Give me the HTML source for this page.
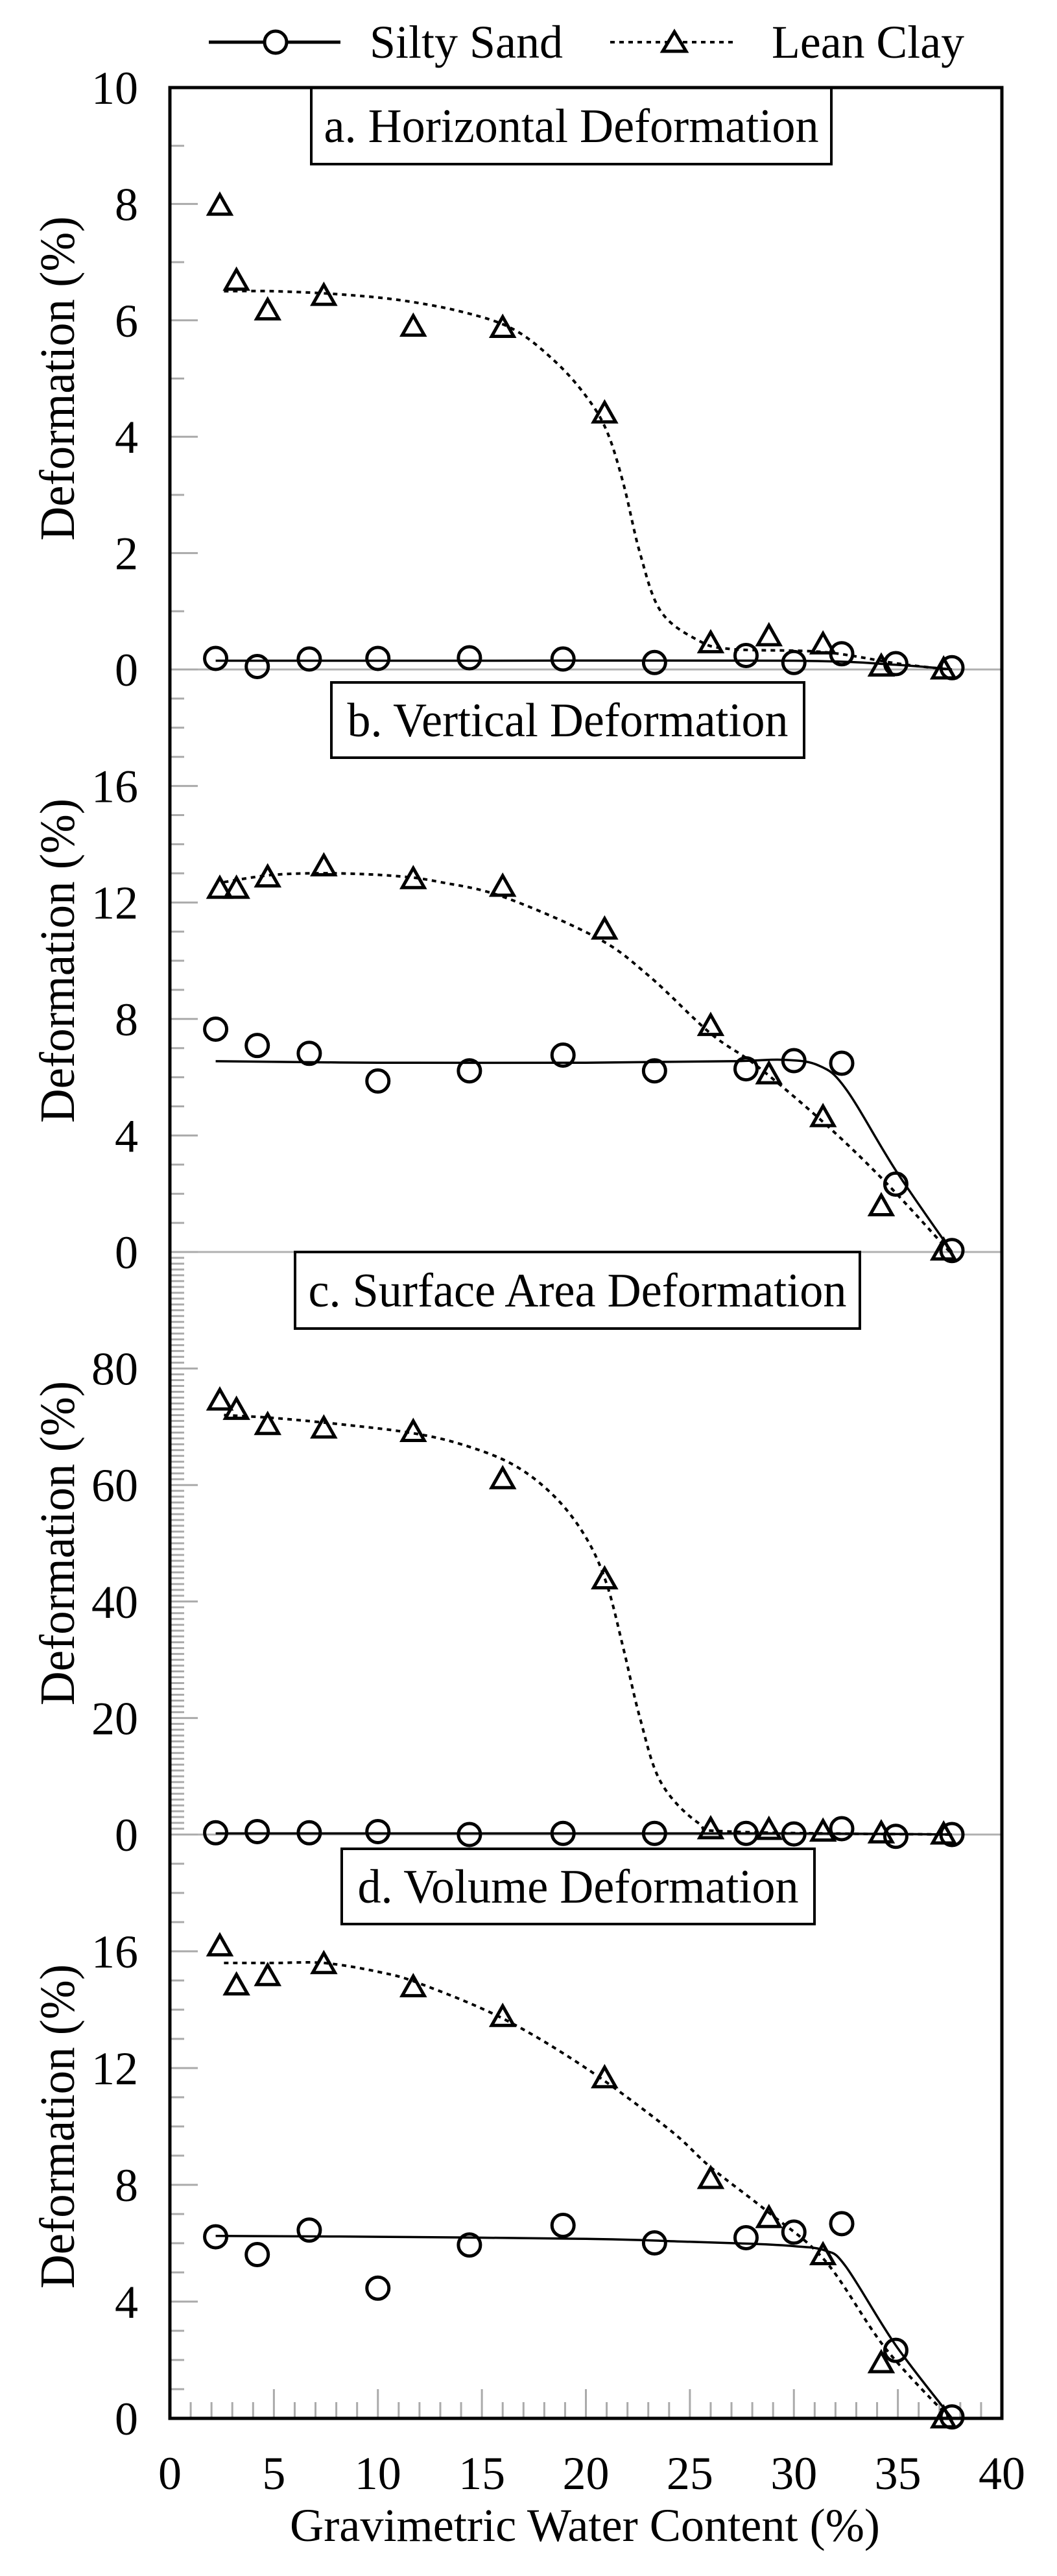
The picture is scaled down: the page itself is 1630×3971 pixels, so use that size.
<!DOCTYPE html>
<html><head><meta charset="utf-8"><style>
html,body{margin:0;padding:0;background:#fff;}
svg{display:block;}
svg text{font-family:"Liberation Serif","DejaVu Serif",serif;fill:#000;}
</style></head><body>
<svg id="chart" width="1630" height="3971" viewBox="0 0 1630 3971" xmlns="http://www.w3.org/2000/svg" font-family="Liberation Serif, DejaVu Serif, serif">
<rect width="1630" height="3971" fill="#fff"/>
<g id="grid"></g>
<g id="curves"></g>
<g id="marks"></g>
<g id="labels"></g>
<g>
  <line x1="322" y1="65" x2="525" y2="65" stroke="#000" stroke-width="5"/>
  <ellipse cx="425" cy="65" rx="17" ry="17" fill="#fff" stroke="#000" stroke-width="5"/>
  <text x="570" y="89" font-size="72" font-family="Liberation Serif, serif" textLength="298" lengthAdjust="spacingAndGlyphs">Silty Sand</text>
  <line x1="941" y1="65" x2="1134" y2="65" stroke="#000" stroke-width="4" stroke-dasharray="7 7"/>
  <path d="M1040 49 L1058 79 L1022 79 Z" fill="#fff" stroke="#000" stroke-width="5"/>
  <text x="1190" y="89" font-size="72" font-family="Liberation Serif, serif" textLength="297" lengthAdjust="spacingAndGlyphs">Lean Clay</text>
</g>
<rect x="262" y="135" width="1283" height="3593" fill="none" stroke="#000" stroke-width="5"/>
<text x="447" y="3917" font-size="72" font-family="Liberation Serif, serif" textLength="910" lengthAdjust="spacingAndGlyphs">Gravimetric Water Content (%)</text>
</svg>
<script>
// ---- data ----
const sandX = [2.2, 4.2, 6.7, 10.0, 14.4, 18.9, 23.3, 27.7, 30.0, 32.3, 34.9, 37.6];
const clayX = [2.4, 3.2, 4.7, 7.4, 11.7, 16.0, 20.9, 26.0, 28.8, 31.4, 34.2, 37.2];

const sandA = [0.19, 0.05, 0.18, 0.19, 0.2, 0.18, 0.12, 0.24, 0.12, 0.27, 0.1, 0.03];
const clayA = [7.97, 6.68, 6.17, 6.42, 5.89, 5.87, 4.4, 0.45, 0.57, 0.43, 0.05, 0.0];
const sandB = [7.65, 7.09, 6.82, 5.87, 6.22, 6.76, 6.22, 6.29, 6.57, 6.48, 2.33, 0.05];
const clayB = [12.47, 12.47, 12.86, 13.24, 12.8, 12.54, 11.07, 7.76, 6.1, 4.63, 1.57, 0.05];
const sandC = [0.3, 0.5, 0.3, 0.5, 0.0, 0.2, 0.2, 0.2, 0.1, 1.0, -0.3, 0.0];
const clayC = [74.5, 72.9, 70.3, 69.7, 69.1, 61.0, 43.8, 0.9, 0.8, 0.5, 0.2, 0.0];
const sandD = [6.22, 5.61, 6.45, 4.46, 5.94, 6.61, 6.01, 6.19, 6.38, 6.67, 2.33, 0.05];
const clayD = [16.17, 14.83, 15.15, 15.56, 14.77, 13.75, 11.65, 8.2, 6.86, 5.59, 1.89, 0.0];

// fitted trend curves
const sandFitAX = [2.2, 15, 30, 34.9, 37.6];
const sandFitAY = [0.15, 0.15, 0.15, 0.08, 0.0];
const clayFitAX = [2.6, 5, 8, 11, 14, 16.5, 18.5, 20, 21, 21.8, 22.6, 23.6, 25.4, 27, 31.4, 35, 37.5];
const clayFitAY = [6.5, 6.5, 6.45, 6.35, 6.15, 5.85, 5.3, 4.7, 4.1, 3.2, 2.0, 1.0, 0.5, 0.35, 0.3, 0.1, 0.0];
const sandFitBX = [2.2, 10, 20, 27, 29.5, 31.2, 32.5, 34.9, 37.6];
const sandFitBY = [6.55, 6.5, 6.5, 6.55, 6.6, 6.4, 5.6, 2.8, 0.0];
const clayFitBX = [2.6, 5, 8, 11, 13, 16, 20.5, 23, 26, 28.2, 31.5, 34.4, 37.5];
const clayFitBY = [12.7, 12.95, 13.0, 12.9, 12.7, 12.2, 10.8, 9.5, 7.5, 6.4, 4.4, 2.4, 0.0];
const sandFitCX = [2.2, 20, 30, 34.9, 37.6];
const sandFitCY = [0.2, 0.2, 0.2, 0.1, 0.0];
const clayFitCX = [2.6, 5, 8, 11.5, 14, 16.5, 18.5, 20, 21, 21.8, 22.6, 23.6, 25.4, 27, 37.5];
const clayFitCY = [72, 71.5, 70.5, 69, 67, 63.5, 58, 51, 43, 32, 20, 9, 2, 0.5, 0.0];
const sandFitDX = [2.2, 10, 20, 25, 28, 30, 31.5, 32.5, 34.9, 37.6];
const sandFitDY = [6.25, 6.22, 6.15, 6.05, 5.98, 5.9, 5.75, 5.2, 2.5, 0.0];
const clayFitDX = [2.6, 5, 7.4, 10, 12, 16, 20, 24, 26, 28.7, 31.5, 34.4, 37.5];
const clayFitDY = [15.6, 15.6, 15.6, 15.3, 14.9, 13.7, 12.0, 9.9, 8.6, 7.1, 5.4, 2.4, 0.0];

const panelTitles = ["a. Horizontal Deformation", "b. Vertical Deformation", "c. Surface Area Deformation", "d. Volume Deformation"];
const panelMax = [10, 20, 100, 20];
const yTicksA = [0, 2, 4, 6, 8, 10];
const yTicksB = [0, 4, 8, 12, 16];
const yTicksC = [0, 20, 40, 60, 80];
const yTicksD = [0, 4, 8, 12, 16];
const xTicks = [0, 5, 10, 15, 20, 25, 30, 35, 40];

// ---- layout ----
const NS = "http://www.w3.org/2000/svg";
const FONT = "Liberation Serif, DejaVu Serif, serif";
const X0 = 262, X1 = 1545, XMAX = 40;
const panelTop = [135, 1032, 1930, 2828];
const panelBot = [1032, 1930, 2828, 3728];
const minorStep = [1, 1, 1, 1];
const majorStep = [2, 4, 20, 4];
const titleBox = [[480, 135, 802, 118], [511, 1052, 729, 116], [455, 1930, 871, 118], [527, 2850, 729, 116]];
const titleLen = [763, 680, 830, 680];
const tickSets = [yTicksA, yTicksB, yTicksC, yTicksD];
const sandSets = [sandA, sandB, sandC, sandD];
const claySets = [clayA, clayB, clayC, clayD];
const sandFits = [[sandFitAX, sandFitAY], [sandFitBX, sandFitBY], [sandFitCX, sandFitCY], [sandFitDX, sandFitDY]];
const clayFits = [[clayFitAX, clayFitAY], [clayFitBX, clayFitBY], [clayFitCX, clayFitCY], [clayFitDX, clayFitDY]];

function xS(v) { return X0 + v / XMAX * (X1 - X0); }
function yS(p, v) { return panelBot[p] - v / panelMax[p] * (panelBot[p] - panelTop[p]); }
function mk(tag, attrs, parent) {
  const e = document.createElementNS(NS, tag);
  for (const k in attrs) e.setAttribute(k, attrs[k]);
  parent.appendChild(e);
  return e;
}
function smoothPath(pts) {
  let d = "M" + pts[0][0].toFixed(1) + " " + pts[0][1].toFixed(1);
  for (let i = 0; i < pts.length - 1; i++) {
    const p0 = pts[Math.max(0, i - 1)], p1 = pts[i], p2 = pts[i + 1], p3 = pts[Math.min(pts.length - 1, i + 2)];
    const c1x = p1[0] + (p2[0] - p0[0]) / 6, c1y = p1[1] + (p2[1] - p0[1]) / 6;
    const c2x = p2[0] - (p3[0] - p1[0]) / 6, c2y = p2[1] - (p3[1] - p1[1]) / 6;
    d += " C" + c1x.toFixed(1) + " " + c1y.toFixed(1) + " " + c2x.toFixed(1) + " " + c2y.toFixed(1) + " " + p2[0].toFixed(1) + " " + p2[1].toFixed(1);
  }
  return d;
}

const grid = document.getElementById("grid");
const curves = document.getElementById("curves");
const marks = document.getElementById("marks");
const labels = document.getElementById("labels");

for (let p = 0; p < 4; p++) {
  if (p < 3) {
    const bl = mk("line", {x1: X0, x2: X1, y1: panelBot[p], y2: panelBot[p], stroke: "#b0b0b0", "stroke-width": 3}, grid);
    
    
  }
  for (let v = 0; v <= panelMax[p]; v += minorStep[p]) {
    const isMajor = Math.abs(v / majorStep[p] - Math.round(v / majorStep[p])) < 1e-6;
    const y = yS(p, v);
    const t = mk("line", {x1: X0, x2: X0 + (isMajor ? 43 : 22), y1: y, y2: y, stroke: "#aaa", "stroke-width": 3}, grid);
    
    
  }
  const ticks = tickSets[p];
  for (let i = 0; i < ticks.length; i++) {
    const lab = mk("text", {x: 213, y: yS(p, ticks[i]) + 25, "font-size": 72, "font-family": FONT, "text-anchor": "end"}, labels);
    lab.textContent = String(ticks[i]);
    
    
  }
  const cy = (panelTop[p] + panelBot[p]) / 2;
  const yt = mk("text", {x: 0, y: 0, "font-size": 76, "font-family": FONT, "text-anchor": "middle", transform: "translate(114," + cy + ") rotate(-90)", textLength: 500, lengthAdjust: "spacingAndGlyphs"}, labels);
  yt.textContent = "Deformation (%)";
  
  

  const sf = sandFits[p];
  const sp = sf[0].map((x, i) => [xS(x), yS(p, sf[1][i])]);
  const sl = mk("path", {d: smoothPath(sp), fill: "none", stroke: "#000", "stroke-width": 3.5}, curves);
  
  
  const cf = clayFits[p];
  const cp = cf[0].map((x, i) => [xS(x), yS(p, cf[1][i])]);
  const cl = mk("path", {d: smoothPath(cp), fill: "none", stroke: "#000", "stroke-width": 4, "stroke-dasharray": "7 7"}, curves);
  
  

  const sv = sandSets[p];
  for (let i = 0; i < sandX.length; i++) {
    const c = mk("ellipse", {cx: xS(sandX[i]), cy: yS(p, sv[i]), rx: 17, ry: 17, fill: "none", stroke: "#000", "stroke-width": 5}, marks);
    
    
  }
  const cv = claySets[p];
  for (let i = 0; i < clayX.length; i++) {
    const x = xS(clayX[i]), y = yS(p, cv[i]);
    const tr = mk("path", {d: "M" + x + " " + (y - 17) + " L" + (x + 17) + " " + (y + 13) + " L" + (x - 17) + " " + (y + 13) + " Z", fill: "none", stroke: "#000", "stroke-width": 5, "stroke-linejoin": "miter"}, marks);
    
    
  }

  const b = titleBox[p];
  const box = mk("rect", {x: b[0], y: b[1], width: b[2], height: b[3], fill: "#fff", stroke: "#000", "stroke-width": 4}, labels);
  
  
  const tt = mk("text", {x: b[0] + b[2] / 2, y: b[1] + b[3] / 2 + 25, "font-size": 74, "font-family": FONT, "text-anchor": "middle", textLength: titleLen[p], lengthAdjust: "spacingAndGlyphs"}, labels);
  tt.textContent = panelTitles[p];
  
  
}

for (let v = 0; v <= XMAX; v += 1) {
  const isMajor = v % 5 === 0;
  const t = mk("line", {x1: xS(v), x2: xS(v), y1: 3728, y2: 3728 - (isMajor ? 45 : 25), stroke: "#aaa", "stroke-width": 3}, grid);
  
  
}
for (let i = 0; i < xTicks.length; i++) {
  const lab = mk("text", {x: xS(xTicks[i]), y: 3837, "font-size": 72, "font-family": FONT, "text-anchor": "middle"}, labels);
  lab.textContent = String(xTicks[i]);
  
  
}
</script>
</body></html>
